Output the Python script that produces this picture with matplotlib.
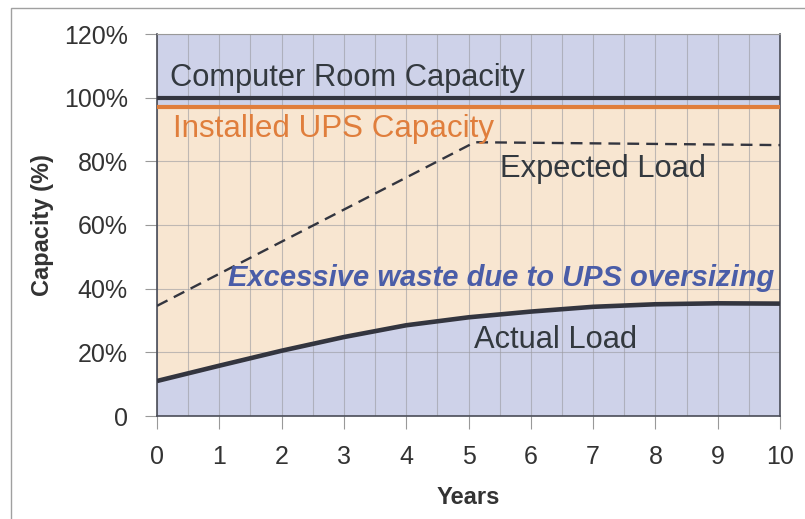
import matplotlib.pyplot as plt
from matplotlib.patches import Rectangle
from matplotlib.ticker import MultipleLocator, FuncFormatter

plt.rcParams['font.family'] = ['Liberation Sans', 'DejaVu Sans']

# данные
years = [0, 1, 2, 3, 4, 5, 6, 7, 8, 9, 10]
actual_load = [11, 15.8, 20.5, 24.8, 28.5, 31, 32.8, 34.3, 35.1, 35.4, 35.3]
expected_x = [0, 5.1, 10]
expected_load = [34.6, 86, 85.1]
room_capacity = 100
ups_capacity = 97

lavender = '#ced2e9'
peach = '#f8e6d1'
orange = '#e07e3c'
dark = '#33353f'
blue = '#4a5da8'

fig = plt.figure(figsize=(8.05, 5.19), dpi=100)
ax = fig.add_axes([157 / 805, 1 - 416 / 519, 623 / 805, 382 / 519])

# рамка вокруг картинки (видны только левый и верхний края)
fig.patches.append(Rectangle((11 / 805, -0.1), 1.2, 1 - 8 / 519 + 0.1,
                             transform=fig.transFigure, fill=False,
                             edgecolor='#a0a0a0', linewidth=1))

ax.set_facecolor(lavender)
ax.fill_between(years, actual_load, ups_capacity, color=peach, zorder=0.5, linewidth=0)

ax.set_axisbelow('line')
ax.plot([0, 10], [room_capacity, room_capacity], color=dark, linewidth=3, zorder=3)
ax.plot([0, 10], [ups_capacity, ups_capacity], color=orange, linewidth=3, zorder=3)
ax.plot(expected_x, expected_load, color=dark, linewidth=1.7, linestyle=(0, (5, 3)), zorder=3)
ax.plot(years, actual_load, color=dark, linewidth=3.3, zorder=3, solid_capstyle='butt')

ax.set_xlim(0, 10)
ax.set_ylim(0, 120)
ax.xaxis.set_major_locator(MultipleLocator(1))
ax.xaxis.set_minor_locator(MultipleLocator(0.5))
ax.yaxis.set_major_locator(MultipleLocator(20))
ax.yaxis.set_major_formatter(FuncFormatter(lambda v, p: '0' if v == 0 else f'{v:.0f}%'))

ax.grid(which='both', axis='x', color='#9a9aa0', linewidth=0.8, alpha=0.6)
ax.grid(which='major', axis='y', color='#9a9aa0', linewidth=0.8, alpha=0.6)

ax.tick_params(axis='both', which='major', direction='out', length=9, width=0.8,
               color='#999999', labelsize=18, labelcolor='#333333')
ax.tick_params(axis='x', which='major', pad=12)
ax.tick_params(axis='y', which='major', pad=12)
ax.tick_params(which='minor', length=0)

for side in ['left', 'bottom', 'right']:
    ax.spines[side].set_color('#4a4d58')
    ax.spines[side].set_linewidth(1.2)
ax.spines['top'].set_color('#999999')

ax.set_xlabel('Years', fontsize=17, fontweight='bold', color='#333333', labelpad=12)
ax.set_ylabel('Capacity (%)', fontsize=17, fontweight='bold', color='#333333', labelpad=7)

ax.text(0.21, 106.2, 'Computer Room Capacity', fontsize=22.2, color='#33393f', va='center')
ax.text(0.26, 90.3, 'Installed UPS Capacity', fontsize=22.6, color=orange, va='center')
ax.text(5.5, 77.5, 'Expected Load', fontsize=22.2, color='#33393f', va='center')
ax.text(1.14, 43.2, 'Excessive waste due to UPS oversizing', fontsize=21, color=blue,
        style='italic', fontweight='bold', va='center')
ax.text(5.09, 24, 'Actual Load', fontsize=22.2, color='#33393f', va='center')

plt.savefig('out.png', dpi=100)
